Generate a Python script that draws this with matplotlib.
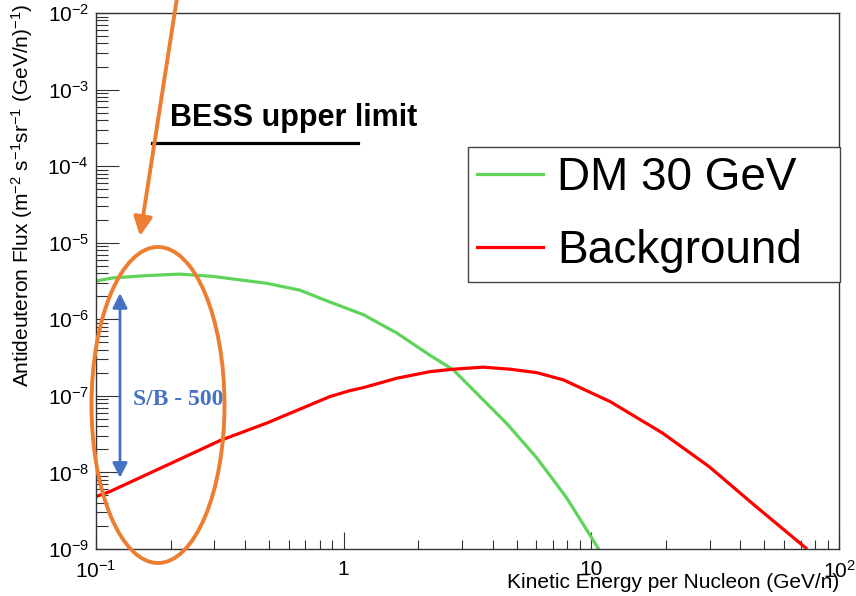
import numpy as np
import matplotlib
matplotlib.use("Agg")
import matplotlib.pyplot as plt
from matplotlib.patches import Ellipse, FancyArrowPatch

plt.rcParams['font.family'] = ['Liberation Sans', 'DejaVu Sans']
plt.rcParams['mathtext.fontset'] = 'custom'
plt.rcParams['mathtext.rm'] = 'Liberation Sans'
plt.rcParams['mathtext.it'] = 'Liberation Sans:italic'
plt.rcParams['mathtext.bf'] = 'Liberation Sans:bold'

# curves (GeV/n, flux)
dm_energy = [0.100, 0.117, 0.160, 0.218, 0.297, 0.489, 0.666, 0.880, 1.20, 1.64,
             2.23, 2.77, 3.55, 4.55, 6.02, 7.90, 10.15, 10.7]
dm_flux = [3.16e-6, 3.47e-6, 3.72e-6, 3.89e-6, 3.63e-6, 2.95e-6, 2.40e-6, 1.68e-6,
           1.15e-6, 6.61e-7, 3.39e-7, 2.19e-7, 9.77e-8, 4.37e-8, 1.55e-8, 4.79e-9,
           1.32e-9, 1.0e-9]

bg_energy = [0.100, 0.114, 0.263, 0.317, 0.489, 0.880, 1.06, 1.20, 1.64, 2.23,
             2.77, 3.66, 4.69, 6.02, 7.70, 11.9, 19.4, 29.9, 46.2, 73.5]
bg_flux = [4.84e-9, 5.64e-9, 1.97e-8, 2.61e-8, 4.41e-8, 9.79e-8, 1.17e-7, 1.28e-7,
           1.70e-7, 2.07e-7, 2.23e-7, 2.37e-7, 2.23e-7, 2.01e-7, 1.62e-7, 8.43e-8,
           3.26e-8, 1.19e-8, 3.59e-9, 1.03e-9]

bess_energy = [0.168, 1.14]
bess_flux = [1.98e-4, 1.98e-4]

sb_energy = 0.125
sb_top = 2.2e-6
sb_bottom = 8.5e-9

x_ticks = [0.1, 1, 10, 100]
x_labels = [r'$10^{-1}$', '1', '10', r'$10^{2}$']

W, H = 856, 596
dpi = 100

green = '#5fd35a'
red = '#ff0000'
orange = '#ed7d31'
blue = '#4472c4'
frame = '#333333'


def px(x, y):
    # pixel position -> figure fraction
    return (x / W, 1 - y / H)


fig = plt.figure(figsize=(W / dpi, H / dpi), dpi=dpi)
ax = fig.add_axes([96 / W, 1 - 549 / H, 743 / W, 536 / H])

ax.plot(dm_energy, dm_flux, color=green, lw=2.3, label='DM 30 GeV')
ax.plot(bg_energy, bg_flux, color=red, lw=2.3, label='Background')
ax.plot(bess_energy, bess_flux, color='black', lw=2.3)

ax.set_xscale('log')
ax.set_yscale('log')
ax.set_xlim(0.1, 100)
ax.set_ylim(1e-9, 1e-2)

ax.set_xticks(x_ticks)
ax.set_xticklabels(x_labels)
for s in ax.spines.values():
    s.set_color(frame)
    s.set_linewidth(1)

ax.tick_params(axis='both', which='both', direction='in', top=False, right=False,
               color=frame, width=0.8, labelsize=15)
ax.tick_params(axis='x', which='major', length=12, pad=8)
ax.tick_params(axis='x', which='minor', length=6.5)
ax.tick_params(axis='y', which='major', length=16.5, pad=5)
ax.tick_params(axis='y', which='minor', length=8.6)

ax.set_xlabel('Kinetic Energy per Nucleon (GeV/n)', fontsize=15)
ax.xaxis.set_label_coords(1.0, -0.063)
ax.xaxis.label.set_ha('right')
ax.xaxis.label.set_va('center')

ax.set_ylabel(r'Antideuteron Flux (m$^{-2}$ s$^{-1}$sr$^{-1}$ (GeV/n)$^{-1}$)', fontsize=15)
ax.yaxis.set_label_coords(-0.1, 0.66)
ax.yaxis.label.set_va('center')

leg = ax.legend(loc='upper left', bbox_to_anchor=(0.5007, 0.5, 0.5, 0.25), mode='expand',
                fontsize=33, frameon=True, fancybox=False, framealpha=1,
                edgecolor='#444444', borderaxespad=0, borderpad=0.2,
                handlelength=1.44, handletextpad=0.3, labelspacing=0.62)
leg.get_frame().set_linewidth(1)

ax.text(0.199, 4.3e-4, 'BESS upper limit', fontsize=22, fontweight='bold',
        ha='left', va='center')

# signal / background arrow
ax.annotate('', xy=(sb_energy, sb_bottom), xytext=(sb_energy, sb_top),
            arrowprops=dict(arrowstyle='<|-|>', color=blue, lw=2,
                            mutation_scale=22, shrinkA=0, shrinkB=0))
ax.text(0.141, 8.9e-8, 'S/B - 500', color=blue, fontsize=17, fontweight='bold',
        family='Liberation Serif', ha='left', va='center')

# orange highlight
ell = Ellipse(px(158, 405), 133 / W, 316 / H, transform=fig.transFigure,
              fill=False, ec=orange, lw=2.8)
fig.add_artist(ell)
arr = FancyArrowPatch(px(179, -15), px(140, 236), transform=fig.transFigure,
                      arrowstyle='-|>', mutation_scale=28, color=orange, lw=2.8,
                      shrinkA=0, shrinkB=0)
fig.add_artist(arr)

fig.savefig('out.png', dpi=dpi)
